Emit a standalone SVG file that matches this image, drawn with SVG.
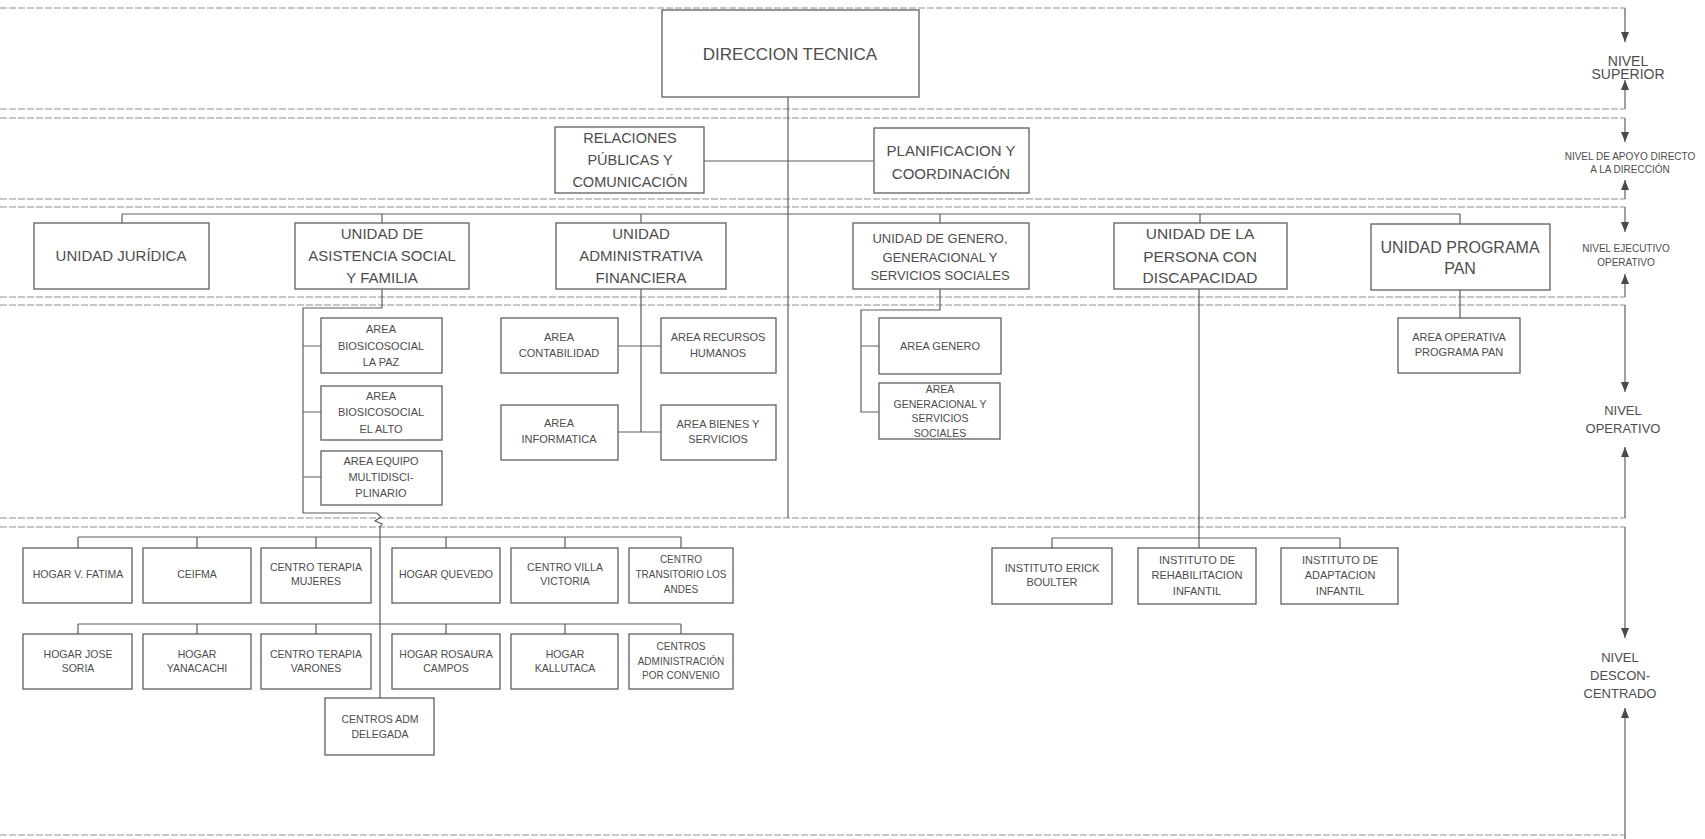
<svg xmlns="http://www.w3.org/2000/svg" width="1705" height="839" viewBox="0 0 1705 839">
<style>
.box{fill:#fff;stroke:#5e5e5e;stroke-width:1.3}
.t{font-family:"Liberation Sans",Arial,sans-serif;fill:#4d4d4d;text-anchor:middle;dominant-baseline:central}
.sep{stroke:#8f8f8f;stroke-width:1.2;stroke-dasharray:7 2;fill:none}
.con{stroke:#5e5e5e;stroke-width:1.2;fill:none}
.lvl{stroke:#5e5e5e;stroke-width:1.2;fill:none;marker-end:url(#arr)}
.f17{font-size:17px}.f15{font-size:15px}.f13{font-size:13px}.f14{font-size:14px}.f11{font-size:11px}.f105{font-size:10.5px}.f10{font-size:10px}
</style>
<defs>
<marker id="arr" viewBox="0 0 10 8" refX="10" refY="4" markerWidth="10" markerHeight="8" orient="auto" markerUnits="userSpaceOnUse"><path d="M0,0 L10,4 L0,8 z" fill="#4a4a4a"/></marker>
</defs>
<rect width="1705" height="839" fill="#fff"/>

<g id="levels">
<path class="sep" d="M0 8 H1625"/>
<path class="sep" d="M0 109 H1625 M0 118 H1625"/>
<path class="sep" d="M0 199 H1625 M0 207 H1625"/>
<path class="sep" d="M0 297 H1625 M0 305 H1625"/>
<path class="sep" d="M0 518 H1625 M0 527 H1625"/>
<path class="sep" d="M0 835 H1625"/>
<path class="lvl" d="M1625 8 V42"/>
<path class="lvl" d="M1625 109 V80"/>
<path class="lvl" d="M1625 118 V142"/>
<path class="lvl" d="M1625 199 V180"/>
<path class="lvl" d="M1625 207 V232"/>
<path class="lvl" d="M1625 297 V274"/>
<path class="lvl" d="M1625 305 V392"/>
<path class="lvl" d="M1625 518 V447"/>
<path class="lvl" d="M1625 527 V638"/>
<path class="lvl" d="M1625 839 V708"/>
<text class="t f14"><tspan x="1628" y="61">NIVEL</tspan><tspan x="1628" y="74">SUPERIOR</tspan></text>
<text class="t f10"><tspan x="1630" y="156">NIVEL DE APOYO DIRECTO</tspan><tspan x="1630" y="169">A LA DIRECCIÓN</tspan></text>
<text class="t f10"><tspan x="1626" y="248">NIVEL EJECUTIVO</tspan><tspan x="1626" y="262">OPERATIVO</tspan></text>
<text class="t f13"><tspan x="1623" y="410">NIVEL</tspan><tspan x="1623" y="428">OPERATIVO</tspan></text>
<text class="t f13"><tspan x="1620" y="657">NIVEL</tspan><tspan x="1620" y="675">DESCON-</tspan><tspan x="1620" y="693">CENTRADO</tspan></text>
</g>

<g id="connectors">
<path class="con" d="M788 97 V518"/>
<path class="con" d="M704 161 H874"/>
<path class="con" d="M122 214 H1460 M122 214 V223 M382 214 V223 M641 214 V223 M940 214 V223 M1200 214 V223 M1460 214 V224"/>
<path class="con" d="M382 289 V308 H303 V513 H377 L381 517 L375 521 L382 524 L380 527 V698 M303 346 H321 M303 412 H321 M303 477 H321"/>
<path class="con" d="M641 289 V432 M618 346 H661 M618 432 H661"/>
<path class="con" d="M940 289 V310 H861 V412 H879 M861 346 H879"/>
<path class="con" d="M1460 290 V318"/>
<path class="con" d="M1199 289 V548 M1052 538 H1340 M1052 538 V548 M1340 538 V548"/>
<path class="con" d="M78 537 H681 M78 537 V548 M197 537 V548 M316 537 V548 M446 537 V548 M565 537 V548 M681 537 V548"/>
<path class="con" d="M78 624 H681 M78 624 V634 M197 624 V634 M316 624 V634 M446 624 V634 M565 624 V634 M681 624 V634"/>
</g>

<g id="dir"><rect class="box" x="662" y="10" width="257" height="87"/><text class="t f17" x="790" y="54">DIRECCION TECNICA</text></g>
<g id="rp"><rect class="box" x="555" y="127" width="149" height="66"/><text class="t" style="font-size:14.5px"><tspan x="630" y="138">RELACIONES</tspan><tspan x="630" y="160">PÚBLICAS Y</tspan><tspan x="630" y="182">COMUNICACIÓN</tspan></text></g>
<g id="plan"><rect class="box" x="874" y="128" width="155" height="65"/><text class="t f15"><tspan x="951" y="150">PLANIFICACION Y</tspan><tspan x="951" y="173">COORDINACIÓN</tspan></text></g>

<g id="jur"><rect class="box" x="34" y="223" width="175" height="66"/><text class="t f15" x="121" y="255">UNIDAD JURÍDICA</text></g>
<g id="uas"><rect class="box" x="295" y="223" width="174" height="66"/><text class="t f15"><tspan x="382" y="233">UNIDAD DE</tspan><tspan x="382" y="255">ASISTENCIA SOCIAL</tspan><tspan x="382" y="277">Y FAMILIA</tspan></text></g>
<g id="uaf"><rect class="box" x="556" y="223" width="170" height="66"/><text class="t f15"><tspan x="641" y="233">UNIDAD</tspan><tspan x="641" y="255">ADMINISTRATIVA</tspan><tspan x="641" y="277">FINANCIERA</tspan></text></g>
<g id="gen"><rect class="box" x="853" y="223" width="176" height="66"/><text class="t f13"><tspan x="940" y="238">UNIDAD DE GENERO,</tspan><tspan x="940" y="257">GENERACIONAL Y</tspan><tspan x="940" y="275">SERVICIOS SOCIALES</tspan></text></g>
<g id="disc"><rect class="box" x="1114" y="223" width="173" height="66"/><text class="t" style="font-size:15.5px"><tspan x="1200" y="233">UNIDAD DE LA</tspan><tspan x="1200" y="256">PERSONA CON</tspan><tspan x="1200" y="277">DISCAPACIDAD</tspan></text></g>
<g id="pan"><rect class="box" x="1371" y="224" width="179" height="66"/><text class="t" style="font-size:16px"><tspan x="1460" y="247">UNIDAD PROGRAMA</tspan><tspan x="1460" y="268">PAN</tspan></text></g>

<g id="lapaz"><rect class="box" x="321" y="318" width="121" height="55"/><text class="t f11"><tspan x="381" y="329">AREA</tspan><tspan x="381" y="346">BIOSICOSOCIAL</tspan><tspan x="381" y="362">LA PAZ</tspan></text></g>
<g id="elalto"><rect class="box" x="321" y="386" width="121" height="54"/><text class="t f11"><tspan x="381" y="396">AREA</tspan><tspan x="381" y="412">BIOSICOSOCIAL</tspan><tspan x="381" y="429">EL ALTO</tspan></text></g>
<g id="multi"><rect class="box" x="321" y="451" width="121" height="54"/><text class="t f11"><tspan x="381" y="461">AREA EQUIPO</tspan><tspan x="381" y="477">MULTIDISCI-</tspan><tspan x="381" y="493">PLINARIO</tspan></text></g>
<g id="cont"><rect class="box" x="501" y="318" width="117" height="55"/><text class="t f11"><tspan x="559" y="337">AREA</tspan><tspan x="559" y="353">CONTABILIDAD</tspan></text></g>
<g id="rrhh"><rect class="box" x="661" y="318" width="115" height="55"/><text class="t f11"><tspan x="718" y="337">AREA RECURSOS</tspan><tspan x="718" y="353">HUMANOS</tspan></text></g>
<g id="inf"><rect class="box" x="501" y="405" width="117" height="55"/><text class="t f11"><tspan x="559" y="423">AREA</tspan><tspan x="559" y="439">INFORMATICA</tspan></text></g>
<g id="bys"><rect class="box" x="661" y="405" width="115" height="55"/><text class="t f11"><tspan x="718" y="424">AREA BIENES Y</tspan><tspan x="718" y="439">SERVICIOS</tspan></text></g>
<g id="agen"><rect class="box" x="879" y="318" width="122" height="56"/><text class="t f11" x="940" y="346">AREA GENERO</text></g>
<g id="agenr"><rect class="box" x="879" y="383" width="121" height="56"/><text class="t f105"><tspan x="940" y="389">AREA</tspan><tspan x="940" y="404">GENERACIONAL Y</tspan><tspan x="940" y="418">SERVICIOS</tspan><tspan x="940" y="433">SOCIALES</tspan></text></g>
<g id="aop"><rect class="box" x="1398" y="318" width="122" height="55"/><text class="t f11"><tspan x="1459" y="337">AREA OPERATIVA</tspan><tspan x="1459" y="352">PROGRAMA PAN</tspan></text></g>

<g id="fatima"><rect class="box" x="23" y="548" width="109" height="55"/><text class="t f105" x="78" y="574">HOGAR V. FATIMA</text></g>
<g id="ceifma"><rect class="box" x="143" y="548" width="108" height="55"/><text class="t f105" x="197" y="574">CEIFMA</text></g>
<g id="ctm"><rect class="box" x="261" y="548" width="110" height="55"/><text class="t f105"><tspan x="316" y="567">CENTRO TERAPIA</tspan><tspan x="316" y="581">MUJERES</tspan></text></g>
<g id="quevedo"><rect class="box" x="392" y="548" width="108" height="55"/><text class="t f105" x="446" y="574">HOGAR QUEVEDO</text></g>
<g id="villa"><rect class="box" x="511" y="548" width="107" height="55"/><text class="t f105"><tspan x="565" y="567">CENTRO VILLA</tspan><tspan x="565" y="581">VICTORIA</tspan></text></g>
<g id="andes"><rect class="box" x="629" y="548" width="104" height="55"/><text class="t f10"><tspan x="681" y="559">CENTRO</tspan><tspan x="681" y="574">TRANSITORIO LOS</tspan><tspan x="681" y="589">ANDES</tspan></text></g>

<g id="soria"><rect class="box" x="23" y="634" width="109" height="55"/><text class="t f105"><tspan x="78" y="654">HOGAR JOSE</tspan><tspan x="78" y="668">SORIA</tspan></text></g>
<g id="yanacachi"><rect class="box" x="143" y="634" width="108" height="55"/><text class="t f105"><tspan x="197" y="654">HOGAR</tspan><tspan x="197" y="668">YANACACHI</tspan></text></g>
<g id="ctv"><rect class="box" x="261" y="634" width="110" height="55"/><text class="t f105"><tspan x="316" y="654">CENTRO TERAPIA</tspan><tspan x="316" y="668">VARONES</tspan></text></g>
<g id="rosaura"><rect class="box" x="392" y="634" width="108" height="55"/><text class="t f105"><tspan x="446" y="654">HOGAR ROSAURA</tspan><tspan x="446" y="668">CAMPOS</tspan></text></g>
<g id="kallutaca"><rect class="box" x="511" y="634" width="107" height="55"/><text class="t f105"><tspan x="565" y="654">HOGAR</tspan><tspan x="565" y="668">KALLUTACA</tspan></text></g>
<g id="convenio"><rect class="box" x="629" y="634" width="104" height="55"/><text class="t f10"><tspan x="681" y="646">CENTROS</tspan><tspan x="681" y="661">ADMINISTRACIÓN</tspan><tspan x="681" y="675">POR CONVENIO</tspan></text></g>
<g id="delegada"><rect class="box" x="325" y="698" width="109" height="57"/><text class="t f105"><tspan x="380" y="719">CENTROS ADM</tspan><tspan x="380" y="734">DELEGADA</tspan></text></g>

<g id="erick"><rect class="box" x="992" y="548" width="120" height="56"/><text class="t f11"><tspan x="1052" y="568">INSTITUTO ERICK</tspan><tspan x="1052" y="582">BOULTER</tspan></text></g>
<g id="rehab"><rect class="box" x="1138" y="548" width="118" height="56"/><text class="t f11"><tspan x="1197" y="560">INSTITUTO DE</tspan><tspan x="1197" y="575">REHABILITACION</tspan><tspan x="1197" y="591">INFANTIL</tspan></text></g>
<g id="adapt"><rect class="box" x="1281" y="548" width="117" height="56"/><text class="t f11"><tspan x="1340" y="560">INSTITUTO DE</tspan><tspan x="1340" y="575">ADAPTACION</tspan><tspan x="1340" y="591">INFANTIL</tspan></text></g>
</svg>
